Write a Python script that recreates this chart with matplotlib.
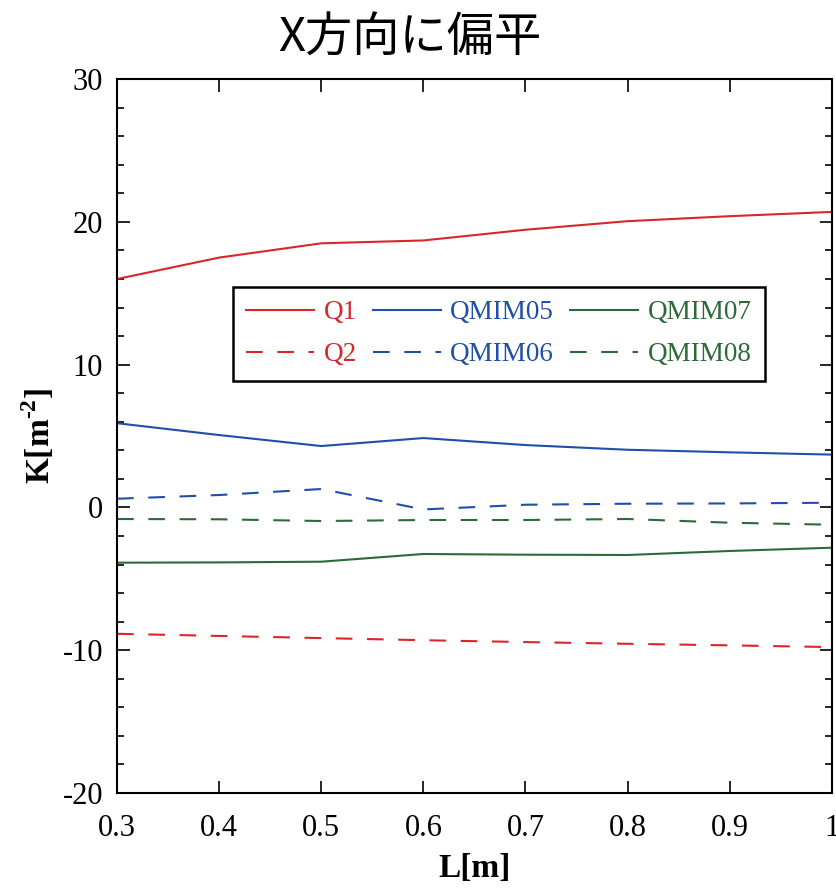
import matplotlib
matplotlib.use('Agg')
import matplotlib.pyplot as plt
from matplotlib.ticker import MultipleLocator

# 数据
L = [0.3, 0.4, 0.5, 0.6, 0.7, 0.8, 0.9, 1.0]
q1 = [16.0, 17.5, 18.5, 18.7, 19.45, 20.05, 20.4, 20.7]
q2 = [-8.85, -9.0, -9.15, -9.3, -9.43, -9.55, -9.66, -9.78]
qmim05 = [5.9, 5.07, 4.3, 4.86, 4.37, 4.04, 3.86, 3.7]
qmim06 = [0.61, 0.87, 1.29, -0.14, 0.19, 0.26, 0.28, 0.33]
qmim07 = [-3.87, -3.85, -3.8, -3.26, -3.31, -3.33, -3.05, -2.82]
qmim08 = [-0.81, -0.83, -0.95, -0.88, -0.88, -0.81, -1.07, -1.21]
xlabels = ['0.3', '0.4', '0.5', '0.6', '0.7', '0.8', '0.9', '1']

RED = '#d9262b'
BLUE = '#1f4fa8'
GREEN = '#2d6a3a'

plt.rcParams['font.family'] = ['Liberation Serif', 'DejaVu Serif']
plt.rcParams['axes.unicode_minus'] = False
plt.rcParams['mathtext.fontset'] = 'custom'
plt.rcParams['mathtext.rm'] = 'Liberation Serif'
plt.rcParams['mathtext.bf'] = 'Liberation Serif:bold'

fig = plt.figure(figsize=(8.36, 8.89), dpi=100)
ax = fig.add_axes([0.14, 0.108, 0.855, 0.803])

dash = (8, 7)
lines = []
lines += ax.plot(L, q1, color=RED, lw=1.5, label='Q1')
lines += ax.plot(L, q2, color=RED, lw=1.5, dashes=dash, label='Q2')
lines += ax.plot(L, qmim05, color=BLUE, lw=1.5, label='QMIM05')
lines += ax.plot(L, qmim06, color=BLUE, lw=1.5, dashes=dash, label='QMIM06')
lines += ax.plot(L, qmim07, color=GREEN, lw=1.5, label='QMIM07')
lines += ax.plot(L, qmim08, color=GREEN, lw=1.5, dashes=dash, label='QMIM08')

ax.set_xlim(0.3, 1.0)
ax.set_ylim(-20, 30)
ax.yaxis.set_major_locator(MultipleLocator(10))
ax.yaxis.set_minor_locator(MultipleLocator(2))
ax.set_xticks(L)
ax.set_xticklabels(xlabels)
ax.tick_params(which='both', direction='in', top=True, right=True, labelsize=22, width=1.2)
ax.tick_params(which='major', length=9)
ax.tick_params(which='minor', length=5)
ax.tick_params(axis='x', pad=15)
ax.tick_params(axis='y', pad=10)
for s in ax.spines.values():
    s.set_linewidth(1.5)

ax.set_xlabel('L[m]', fontsize=24, fontweight='bold', labelpad=7)
ax.set_ylabel('K[m$^{\\mathbf{\u20102}}$]', fontsize=24, fontweight='bold', labelpad=4)

fig.text(0.49, 0.957, 'X方向に偏平', ha='center', va='center', fontsize=34,
         family=['Noto Sans CJK JP', 'DejaVu Sans'])

leg = ax.legend(handles=lines, ncol=3, loc='upper left', bbox_to_anchor=(0.162, 0.709),
                borderaxespad=0, fontsize=19.5, handlelength=2.5, columnspacing=0.6,
                handletextpad=0.35, fancybox=False, framealpha=1, edgecolor='black',
                labelspacing=0.62, borderpad=0.5)
leg.get_frame().set_linewidth(1.8)
for t, ln in zip(leg.get_texts(), lines):
    t.set_color(ln.get_color())

fig.savefig('out.png', dpi=100)
